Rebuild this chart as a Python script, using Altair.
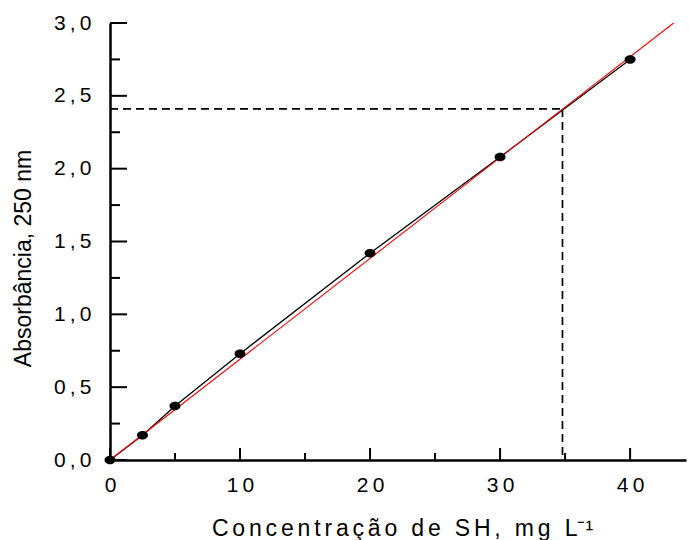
import altair as alt
import pandas as pd

# Calibration standards: concentration (mg/L) vs absorbance at 250 nm
conc = [0, 2.5, 5, 10, 20, 30, 40]
absorb = [0.0, 0.17, 0.37, 0.73, 1.42, 2.08, 2.75]

# Fitted calibration line end points
fit_conc = [0, 43.35]
fit_abs = [0.0, 3.0]

# Sample reading projected onto the calibration line
sample_abs = 2.41
sample_conc = 34.8

# Tick positions
x_major = [0, 10, 20, 30, 40]
x_minor = [5, 15, 25, 35]
y_major = [0.0, 0.5, 1.0, 1.5, 2.0, 2.5, 3.0]
y_minor = [0.25, 0.75, 1.25, 1.75, 2.25, 2.75]

W, H = 576, 437
FONT = "Liberation Sans"
SP = "\u2009"   # thin space used to open up label lettering
TSP = "\u2006"

x_title = TSP.join("Concentração de SH, mg L") + "\u207b\u00b9"

x_scale = alt.Scale(domain=[0, 44.3], nice=False, zero=False)
y_scale = alt.Scale(domain=[0, 3.0], nice=False, zero=False)

x_axis = alt.Axis(
    title=x_title, values=x_major, ticks=False, tickSize=0, grid=False,
    domainColor="black", domainWidth=2.5, labelFlush=False,
    labelFont=FONT, labelFontSize=21, labelColor="black", labelPadding=14,
    labelExpr=f"datum.value >= 10 ? floor(datum.value/10) + '{SP}' + (datum.value % 10) : '' + datum.value",
    titleFont=FONT, titleFontSize=23, titleFontWeight="normal", titleColor="black",
    titleBaseline="alphabetic", titleX=292, titleY=75,
)
y_axis = alt.Axis(
    title="Absorbância, 250 nm", values=y_major, ticks=False, tickSize=0, grid=False,
    domainColor="black", domainWidth=2.5, labelFlush=False,
    labelFont=FONT, labelFontSize=21, labelColor="black", labelPadding=19,
    labelExpr=f"replace(format(datum.value, '.1f'), '.', '{SP},{SP}')",
    titleFont=FONT, titleFontSize=23, titleFontWeight="normal", titleColor="black",
    titleBaseline="alphabetic", titleX=-79.5, titleY=235, titleAngle=-90,
)

pts = pd.DataFrame({"c": conc, "a": absorb})
fit = pd.DataFrame({"c": fit_conc, "a": fit_abs})
guide = pd.DataFrame({
    "c": [0, sample_conc], "c2": [sample_conc, sample_conc],
    "a": [sample_abs, sample_abs], "a2": [sample_abs, 0.0],
})
xt_major = pd.DataFrame({"v": x_major})
xt_minor = pd.DataFrame({"v": x_minor})
yt_major = pd.DataFrame({"v": y_major})
yt_minor = pd.DataFrame({"v": y_minor})

X = lambda f: alt.X(f, type="quantitative", scale=x_scale, axis=x_axis)
Y = lambda f: alt.Y(f, type="quantitative", scale=y_scale, axis=y_axis)

# Inward-pointing ticks
xtick_major = alt.Chart(xt_major).mark_rule(color="black", strokeWidth=2).encode(
    x=X("v"), y=alt.value(H), y2=alt.value(H - 12))
xtick_minor = alt.Chart(xt_minor).mark_rule(color="black", strokeWidth=2).encode(
    x=X("v"), y=alt.value(H), y2=alt.value(H - 7))
ytick_major = alt.Chart(yt_major).mark_rule(color="black", strokeWidth=2).encode(
    y=Y("v"), x=alt.value(0), x2=alt.value(17))
ytick_minor = alt.Chart(yt_minor).mark_rule(color="black", strokeWidth=2).encode(
    y=Y("v"), x=alt.value(0), x2=alt.value(10))

guides = alt.Chart(guide).mark_rule(
    color="black", strokeWidth=1.7, strokeDash=[8, 5]
).encode(x=X("c"), x2="c2", y=Y("a"), y2="a2")

data_line = alt.Chart(pts).mark_line(color="black", strokeWidth=1.3).encode(
    x=X("c"), y=Y("a"))

fit_line = alt.Chart(fit).mark_line(color="#ff0000", strokeWidth=1.1).encode(
    x=X("c"), y=Y("a"))

ellipse = "M-1,0A1,0.77,0,1,0,1,0A1,0.77,0,1,0,-1,0Z"
dots = alt.Chart(pts).mark_point(
    shape=ellipse, filled=True, color="black", opacity=1, size=121
).encode(x=X("c"), y=Y("a"))

chart = alt.layer(
    guides, data_line, fit_line, dots,
    xtick_major, xtick_minor, ytick_major, ytick_minor,
).properties(
    width=W, height=H, autosize="none",
    padding={"left": 110, "top": 23, "right": 3, "bottom": 80},
    background="white",
).configure_view(stroke=None)

chart.save("out.html", embed_options={"renderer": "svg", "actions": False})
